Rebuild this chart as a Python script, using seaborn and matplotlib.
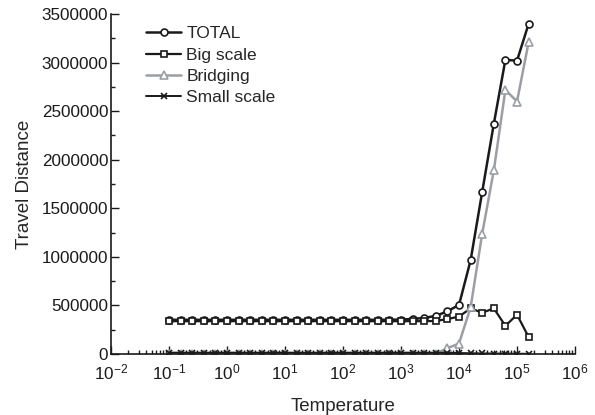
import numpy as np
import pandas as pd
import matplotlib
matplotlib.use("Agg")
import matplotlib.pyplot as plt
import seaborn as sns
from matplotlib.ticker import LogLocator, MultipleLocator, NullFormatter

# Temperatures: five steps per decade from 0.1
temperature = [0.1 * 10 ** (k / 5) for k in range(32)]

total = [352000] * 20 + [355000, 360000, 372000, 392000, 440000, 505000,
                         965000, 1670000, 2370000, 3030000, 3020000, 3400000]
big_scale = [338000] * 23 + [340000, 360000, 385000, 470000, 425000,
                             470000, 290000, 405000, 175000]
bridging = [0] * 23 + [5000, 60000, 108000, 480000, 1240000, 1890000,
                       2720000, 2600000, 3210000]
small_scale = [14000] * 24 + [12000, 10000, 8000, 6000, 5000, 4000, 3000, 2000]

series_names = ["TOTAL", "Big scale", "Bridging", "Small scale"]
x_ticks = [1e-2, 1e-1, 1e0, 1e1, 1e2, 1e3, 1e4, 1e5, 1e6]
y_ticks = list(range(0, 3500001, 500000))

sns.set_style("ticks")
plt.rcParams["font.family"] = ["Liberation Sans", "DejaVu Sans"]
plt.rcParams["mathtext.fontset"] = "custom"
plt.rcParams["mathtext.rm"] = "Liberation Sans"
plt.rcParams["mathtext.it"] = "Liberation Sans"

fig = plt.figure(figsize=(5.95, 4.15), dpi=100)
ax = fig.add_axes([0.1866, 0.147, 0.7798, 0.819])

dark = "#1a1a1a"
grey = "#9b9fa4"
styles = [
    (total, dark, "o", 1.8, 5.0),
    (big_scale, dark, "s", 1.6, 4.6),
    (bridging, grey, "^", 1.8, 5.2),
    (small_scale, dark, "x", 1.4, 4.0),
]
for name, (vals, col, mk, lw, ms) in zip(series_names, styles):
    df = pd.DataFrame({"Temperature": temperature, "Travel Distance": vals})
    face = col if mk == "x" else "white"
    sns.lineplot(data=df, x="Temperature", y="Travel Distance", ax=ax,
                 color=col, linewidth=lw, marker=mk, markersize=ms,
                 markerfacecolor=face, markeredgecolor=col,
                 markeredgewidth=1.2, label=name)

ax.set_xscale("log")
ax.set_xlim(1e-2, 1e6)
ax.set_ylim(0, 3500000)
ax.set_xticks(x_ticks)
ax.set_xticklabels([f"$10^{{{int(np.log10(t))}}}$" for t in x_ticks])
ax.xaxis.set_minor_locator(LogLocator(base=10, subs=np.arange(2, 10), numticks=20))
ax.xaxis.set_minor_formatter(NullFormatter())
ax.set_yticks(y_ticks)
ax.set_yticklabels([str(v) for v in y_ticks])
ax.yaxis.set_minor_locator(MultipleLocator(250000))

ax.tick_params(axis="both", which="both", direction="in", colors=dark,
               labelsize=12.3, width=1.0)
ax.tick_params(axis="both", which="major", length=6)
ax.tick_params(axis="both", which="minor", length=3)
ax.tick_params(axis="x", which="major", pad=6)
ax.tick_params(axis="y", which="major", pad=2)
for side in ["top", "right"]:
    ax.spines[side].set_visible(False)
for side in ["left", "bottom"]:
    ax.spines[side].set_linewidth(1.2)
    ax.spines[side].set_color(dark)

ax.set_xlabel("Temperature", fontsize=13.5, labelpad=11)
ax.set_ylabel("Travel Distance", fontsize=13.5, labelpad=6)

ax.legend(loc="upper left", bbox_to_anchor=(0.05, 1.0), frameon=False,
          fontsize=12.5, handlelength=2.0, handletextpad=0.3,
          labelspacing=0.35, borderaxespad=0.3)

fig.savefig("out.png", dpi=100)
